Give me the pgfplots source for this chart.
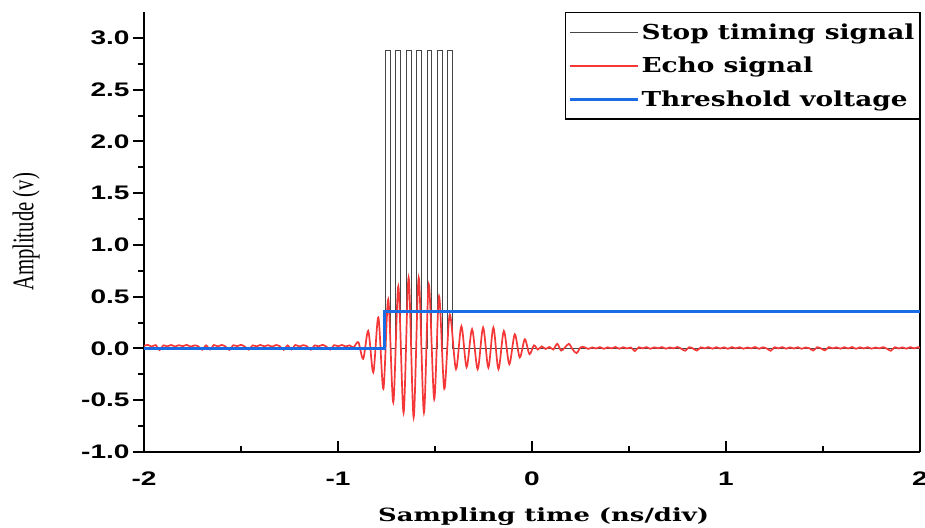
\documentclass[border=0pt]{standalone}
\usepackage{fontspec}
\usepackage{pgfplots}
\pgfplotsset{compat=1.18}
\newfontfamily\tickfont[FakeStretch=1.43]{Liberation Sans}
\newfontfamily\legfont[FakeStretch=1.28]{DejaVu Serif}
\newfontfamily\xlabfont[FakeStretch=1.42]{DejaVu Serif}
\newfontfamily\ylabfont{Liberation Serif}
\definecolor{sigred}{RGB}{245,55,55}
\definecolor{thblue}{RGB}{26,108,228}
\definecolor{stopgray}{RGB}{70,70,70}

\pgfplotstableread{
x y
-2.00 0
-0.755 0
-0.755 2.88
-0.730 2.88
-0.730 0
-0.7015 0
-0.7015 2.88
-0.6765 2.88
-0.6765 0
-0.648 0
-0.648 2.88
-0.623 2.88
-0.623 0
-0.5945 0
-0.5945 2.88
-0.5695 2.88
-0.5695 0
-0.541 0
-0.541 2.88
-0.516 2.88
-0.516 0
-0.4875 0
-0.4875 2.88
-0.4625 2.88
-0.4625 0
-0.434 0
-0.434 2.88
-0.409 2.88
-0.409 0
2.00 0
}\stopdata

\pgfplotstableread{
x y
-2.00 0.025
-1.98 0.035
-1.96 0.018
-1.94 0.033
-1.92 -0.015
-1.90 0.030
-1.88 0.020
-1.86 0.034
-1.84 0.019
-1.82 0.032
-1.80 0.022
-1.78 0.035
-1.76 0.018
-1.74 0.030
-1.72 0.021
-1.70 -0.012
-1.68 0.030
-1.66 -0.010
-1.64 0.033
-1.62 0.020
-1.60 0.034
-1.58 0.019
-1.56 -0.014
-1.54 0.031
-1.52 0.022
-1.50 0.035
-1.48 0.018
-1.46 -0.012
-1.44 0.030
-1.42 0.020
-1.40 0.034
-1.38 0.021
-1.36 0.032
-1.34 0.017
-1.32 0.033
-1.30 0.022
-1.28 -0.013
-1.26 0.030
-1.24 -0.010
-1.22 0.034
-1.20 0.019
-1.18 0.032
-1.16 0.021
-1.14 -0.012
-1.12 0.030
-1.10 0.020
-1.08 0.035
-1.06 0.018
-1.04 -0.011
-1.02 0.032
-1.00 0.021
-0.98 0.034
-0.96 0.019
-0.94 0.030
-0.92 0.010
-0.895 0.06
-0.87 -0.10
-0.844 0.17
-0.818 -0.23
-0.792 0.30
-0.766 -0.39
-0.741 0.475
-0.715 -0.52
-0.689 0.60
-0.662 -0.62
-0.636 0.685
-0.610 -0.665
-0.584 0.685
-0.557 -0.62
-0.532 0.62
-0.504 -0.49
-0.479 0.505
-0.452 -0.39
-0.424 0.33
-0.392 -0.20
-0.364 0.215
-0.337 -0.18
-0.309 0.186
-0.280 -0.20
-0.252 0.202
-0.225 -0.184
-0.199 0.202
-0.173 -0.20
-0.145 0.169
-0.117 -0.152
-0.089 0.137
-0.063 -0.087
-0.037 0.089
-0.013 -0.055
0.01 0.030
0.03 -0.010
0.05 0.020
0.07 -0.005
0.09 0.015
0.11 -0.010
0.13 0.045
0.15 -0.020
0.17 0.010
0.19 0.045
0.21 -0.010
0.23 -0.045
0.25 0.010
0.27 0.012
0.29 -0.004
0.31 0.010
0.33 0.000
0.35 0.013
0.37 -0.003
0.39 0.011
0.41 0.001
0.43 0.014
0.45 -0.002
0.47 0.012
0.49 0.000
0.51 0.010
0.53 -0.025
0.55 0.012
0.57 0.001
0.59 0.013
0.61 -0.003
0.63 0.011
0.65 0.002
0.67 0.013
0.69 -0.002
0.71 0.010
0.73 0.001
0.75 0.014
0.77 -0.003
0.79 -0.022
0.81 0.012
0.83 0.000
0.85 -0.020
0.87 0.011
0.89 0.001
0.91 0.013
0.93 -0.002
0.95 0.012
0.97 0.000
0.99 0.011
1.01 -0.003
1.03 0.013
1.05 0.001
1.07 0.012
1.09 -0.002
1.11 0.010
1.13 0.001
1.15 0.014
1.17 -0.003
1.19 0.011
1.21 0.000
1.23 -0.022
1.25 0.012
1.27 0.001
1.29 0.013
1.31 -0.002
1.33 0.011
1.35 0.000
1.37 0.012
1.39 -0.003
1.41 0.010
1.43 0.002
1.45 -0.020
1.47 0.012
1.49 0.000
1.51 -0.018
1.53 0.013
1.55 0.001
1.57 0.011
1.59 -0.002
1.61 0.012
1.63 0.000
1.65 0.014
1.67 -0.003
1.69 0.011
1.71 0.001
1.73 0.012
1.75 -0.002
1.77 0.010
1.79 0.001
1.81 0.013
1.83 -0.003
1.85 -0.022
1.87 0.012
1.89 0.000
1.91 0.011
1.93 -0.002
1.95 0.013
1.97 0.001
1.99 0.012
2.00 0.006
}\echodata

\pgfplotstableread{
x y
-2.00 0
-0.762 0
-0.762 0.36
2.00 0.36
}\thresdata

\begin{document}
\begin{tikzpicture}
\begin{axis}[
  scale only axis, width=776pt, height=440pt,
  xmin=-2, xmax=2, ymin=-1, ymax=3.25,
  axis x line*=bottom,
  ytick pos=left,
  axis line style={line width=2.3pt, black},
  every tick/.style={line width=2pt, black},
  tick align=inside,
  ytick align=outside,
  major tick length=11pt, minor tick length=6pt,
  xtick={-2,-1,0,1,2},
  ytick={-1,-0.5,0,0.5,1,1.5,2,2.5,3},
  minor x tick num=1, minor y tick num=1,
  /pgf/number format/assume math mode=true,
  ticklabel style={font=\tickfont\bfseries\fontsize{19.6}{22}\selectfont},
  yticklabel style={/pgf/number format/.cd, fixed, fixed zerofill, precision=1},
  xticklabel style={yshift=-16pt},
  xlabel={Sampling time (ns/div)},
  xlabel style={font=\xlabfont\bfseries\fontsize{18.2}{22}\selectfont, at={(axis description cs:0.515,-0.157)}, anchor=base},
  ylabel={Amplitude (v)},
  ylabel style={font=\ylabfont\fontsize{20.7}{24}\selectfont, at={(axis description cs:-0.152,0.5)}, anchor=center, yscale=1.45},
  legend style={at={(1,1)}, anchor=north east, draw=black, line width=1.2pt,
    font=\legfont\bfseries\fontsize{20.6}{24}\selectfont,
    inner xsep=3pt, inner ysep=9pt, row sep=12.5pt},
  legend cell align=left,
  legend image code/.code={\draw[#1] (0pt,0pt) -- (68pt,0pt);},
]
\addlegendimage{draw=stopgray, line width=1pt}
\addlegendentry{Stop timing signal}
\addlegendimage{draw=sigred, line width=1.6pt}
\addlegendentry{Echo signal}
\addlegendimage{draw=thblue, line width=3pt}
\addlegendentry{Threshold voltage}
\addplot[stopgray, line width=1pt, forget plot] table[x=x,y=y] {\stopdata};
\addplot[sigred, line width=1.7pt, smooth, tension=0.5, forget plot] table[x=x,y=y] {\echodata};
\addplot[thblue, line width=3pt, forget plot] table[x=x,y=y] {\thresdata};
\end{axis}
\pgfresetboundingbox
\useasboundingbox (-144pt,-75pt) rectangle (781pt,452pt);
\end{tikzpicture}
\end{document}
